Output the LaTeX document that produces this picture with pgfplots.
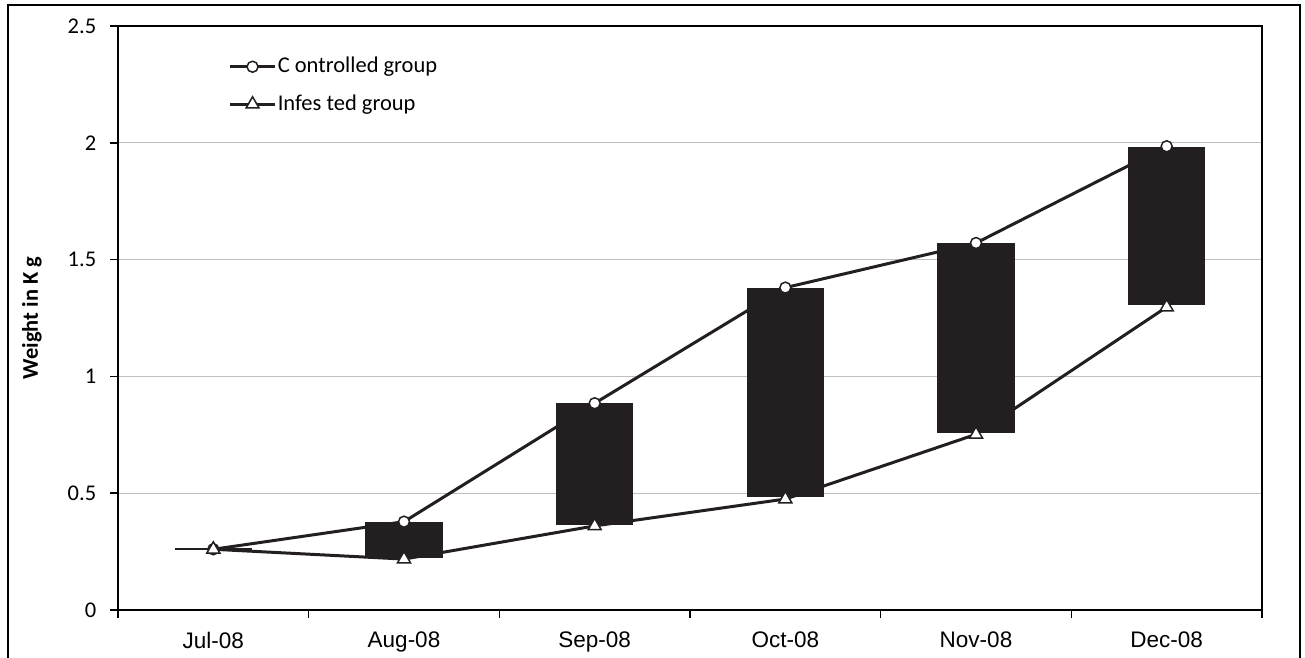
\documentclass[border=0pt]{standalone}
\usepackage{fontspec}
\setmainfont{Carlito}
\newfontfamily\arialf{Liberation Sans}
\usepackage{pgfplots}
\pgfplotsset{compat=1.18}
\definecolor{barc}{HTML}{231F20}
\definecolor{gridc}{HTML}{BEBEBE}
\pgfplotsset{mybase/.style={scale only axis, width=457.6pt, height=233.6pt,
  at={(47.2pt,18.8pt)}, anchor=south west,
  xmin=-0.5, xmax=5.5, ymin=0, ymax=2.5}}
\begin{document}
\begin{tikzpicture}
\useasboundingbox (0,0) rectangle (522pt,262.8pt);
\draw[line width=0.6pt, black] (3.2pt,-2pt) -- (3.2pt,260.8pt) -- (520pt,260.8pt) -- (520pt,-2pt);
\begin{axis}[mybase, ybar stacked, bar width=0.4,
  axis line style={line width=0.6pt, black},
  ymajorgrids, grid style={gridc, line width=0.5pt},
  xtick={-0.5,0.5,1.5,2.5,3.5,4.5,5.5},
  xticklabels={{\arialf Jul-08},{\arialf Aug-08},{\arialf Sep-08},{\arialf Oct-08},{\arialf Nov-08},{\arialf Dec-08}},
  x tick label as interval,
  ytick={0,0.5,1,1.5,2,2.5},
  tick pos=left, tick align=outside, major tick length=3.2pt,
  tick style={black, line width=0.6pt},
  /pgf/number format/assume math mode=true,
  yticklabel style={font=\fontsize{9}{10}\selectfont, xshift=-2pt},
  xticklabel style={font=\fontsize{9}{10}\selectfont, yshift=-2pt},
  ylabel={Weight in K g},
  every axis y label/.style={at={(axis description cs:-0.0752,0.5)}, rotate=90, anchor=center, font=\bfseries\fontsize{9}{10}\selectfont},
]
\addplot[draw=none, fill=none] coordinates {(0,0.257) (1,0.226) (2,0.368) (3,0.488) (4,0.761) (5,1.306)};
\addplot[fill=barc, draw=barc, line width=0.4pt] coordinates {(0,0.006) (1,0.149) (2,0.514) (3,0.887) (4,0.809) (5,0.676)};
\end{axis}
\begin{axis}[mybase, hide axis,
  legend cell align=left,
  legend image code/.code={\draw[#1, mark repeat=2, mark phase=2] plot coordinates {(0pt,0pt) (9pt,0pt) (18pt,0pt)};},
  legend style={at={(axis description cs:0.0962,0.9525)}, anchor=north west, draw=none, fill=none,
    inner sep=0pt, row sep=5pt, font=\fontsize{9}{10}\selectfont,
    nodes={inner sep=0.5pt, text height=7pt, text depth=2pt}},
]
\addplot[barc, line width=1.2pt, mark=*, mark options={fill=white, draw=barc, line width=0.6pt, mark size=2.2pt}]
  coordinates {(0,0.26) (1,0.378) (2,0.885) (3,1.38) (4,1.571) (5,1.985)};
\addlegendentry{C ontrolled group}
\addplot[barc, line width=1.2pt, mark=triangle*, mark options={fill=white, draw=barc, line width=0.6pt, mark size=3pt}]
  coordinates {(0,0.26) (1,0.218) (2,0.36) (3,0.475) (4,0.752) (5,1.297)};
\addlegendentry{Infes ted group}
\end{axis}
\end{tikzpicture}
\end{document}
